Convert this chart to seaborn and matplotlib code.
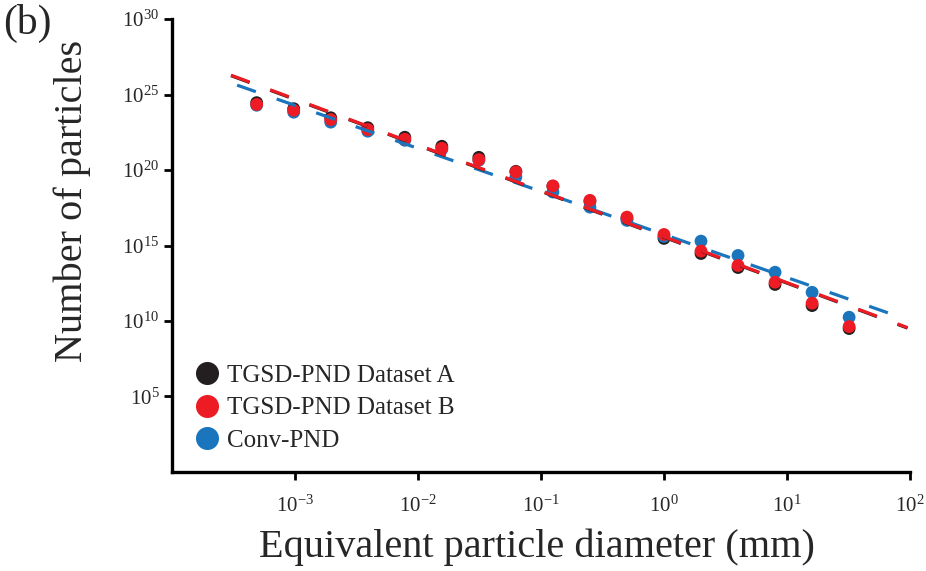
import numpy as np
import pandas as pd
import seaborn as sns
import matplotlib.pyplot as plt
from matplotlib.ticker import NullLocator

# particle diameters (mm), phi classes from 2^-11 to 2^5
diameter = [2.0 ** p for p in range(-11, 6)]

# log10 of number of particles
logn_a = [24.46, 24.06, 23.46, 22.80, 22.17, 21.57, 20.84, 19.91, 18.92,
          17.92, 16.79, 15.47, 14.47, 13.54, 12.42, 11.02, 9.50]
logn_b = [24.34, 23.96, 23.34, 22.68, 22.04, 21.44, 20.69, 19.87, 18.95,
          17.99, 16.88, 15.73, 14.63, 13.68, 12.57, 11.18, 9.63]
logn_conv = [24.29, 23.83, 23.17, 22.57, 21.97, 21.37, 20.64, 19.53, 18.54,
             17.54, 16.66, 15.60, 15.29, 14.34, 13.23, 11.90, 10.25]

series = ["TGSD-PND Dataset A", "TGSD-PND Dataset B", "Conv-PND"]
colors = {"TGSD-PND Dataset A": "#231f20",
          "TGSD-PND Dataset B": "#ed1c24",
          "Conv-PND": "#1b75bc"}

# power-law fits N = 10^logk * d^expo, drawn over [d_min, d_max]
fit_logk = [15.55, 15.58, 15.73]
fit_expo = [-3.04, -3.04, -2.85]
fit_dmin = [10 ** -3.52, 10 ** -3.52, 10 ** -3.47]
fit_dmax = [10 ** 1.98, 10 ** 1.98, 10 ** 1.89]

sns.set_style("ticks")
plt.rcParams["font.family"] = ["Liberation Serif", "DejaVu Serif"]
plt.rcParams["mathtext.fontset"] = "custom"
plt.rcParams["mathtext.rm"] = "Liberation Serif"

# draw order: black, blue, red on top
draw = [("TGSD-PND Dataset A", logn_a), ("Conv-PND", logn_conv),
        ("TGSD-PND Dataset B", logn_b)]
df = pd.concat([pd.DataFrame({"d": diameter, "n": 10 ** np.array(v), "set": k})
                for k, v in draw], ignore_index=True)

fig = plt.figure(figsize=(9.26, 5.71), dpi=100)
ax = fig.add_axes([0.1857, 0.1734, 0.797, 0.7933])

sns.scatterplot(data=df, x="d", y="n", hue="set", hue_order=series,
                palette=colors, s=85, linewidth=0, ax=ax)

for i in [2, 0, 1]:
    xs = np.array([fit_dmin[i], fit_dmax[i]])
    ys = 10 ** fit_logk[i] * xs ** fit_expo[i]
    sns.lineplot(x=xs, y=ys, color=colors[series[i]], lw=2.3,
                 linestyle=(0, (6.2, 6.9)), legend=False, ax=ax)

ax.set_xscale("log")
ax.set_yscale("log")
ax.set_xlim(1e-4, 1e2)
ax.set_ylim(1e0, 1e30)
ax.set_xticks([10.0 ** k for k in range(-3, 3)])
ax.set_yticks([10.0 ** k for k in range(5, 31, 5)])
ax.xaxis.set_minor_locator(NullLocator())
ax.yaxis.set_minor_locator(NullLocator())
ax.tick_params(axis="both", labelsize=15, width=2, length=6, color="black")
ax.tick_params(axis="x", pad=11)
ax.tick_params(axis="y", pad=3)
for s in ["left", "bottom"]:
    ax.spines[s].set_linewidth(2.4)
    ax.spines[s].set_color("black")
sns.despine(ax=ax)

ax.set_xlabel("Equivalent particle diameter (mm)", fontsize=29)
ax.set_ylabel("Number of particles", fontsize=29)
ax.xaxis.set_label_coords(0.495, -0.125)
ax.yaxis.set_label_coords(-0.11, 0.598)

handles, labels = ax.get_legend_handles_labels()
ax.legend(handles, labels, loc="lower left", bbox_to_anchor=(0.0, 0.0),
          frameon=False, fontsize=18, markerscale=1.8, handletextpad=0.2,
          labelspacing=0.4, borderpad=0.3, handlelength=1.2)

fig.text(0.003, 0.958, "(b)", fontsize=30, va="center")

fig.savefig("out.png", dpi=100)
